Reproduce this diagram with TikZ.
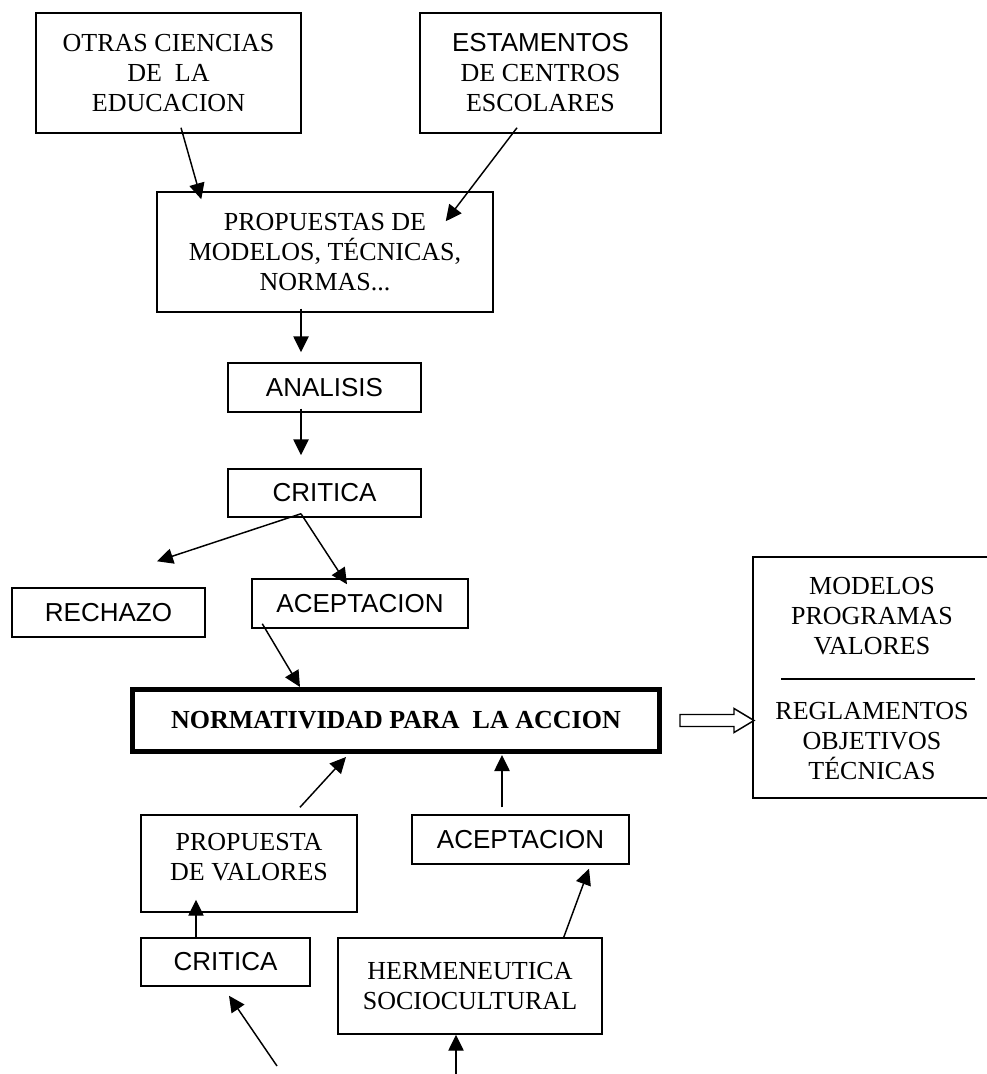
\documentclass[tikz,border=0pt]{standalone}
\usepackage{fontspec}
\setmainfont{Liberation Serif}
\setsansfont{Liberation Sans}
\usetikzlibrary{arrows.meta}

\begin{document}
\begin{tikzpicture}
    [x=0.75pt,y=-0.75pt,
    box/.style={draw,line width=1.1pt,align=center,inner sep=0pt,
      font=\fontsize{19.5}{22.5}\selectfont},
    sbox/.style={box,font=\sffamily\fontsize{19.5}{22.5}\selectfont},
    arr/.style={-{Triangle[length=12pt,width=11.5pt]},line width=1.1pt},
    hollow/.style={draw,line width=1.1pt,fill=white}]
    \useasboundingbox (0,0) rectangle (987,1074);
    % upper chain
    \node[box,minimum width=198.75pt,minimum height=90pt] (otras) at (168.5,73)
      {OTRAS CIENCIAS\\DE\ \ LA\\EDUCACION};
    \node[box,minimum width=180.75pt,minimum height=90pt] (estam) at (540.5,73)
      {\sffamily ESTAMENTOS\\DE CENTROS\\ESCOLARES};
    \node[box,minimum width=252pt,minimum height=90pt] (prop) at (325,252)
      {PROPUESTAS DE\\MODELOS, TÉCNICAS,\\NORMAS...};
    \node[sbox,minimum width=144.75pt,minimum height=36.75pt] (anal) at (324.5,387.5) {ANALISIS};
    \node[sbox,minimum width=144.75pt,minimum height=36pt] (crit) at (324.5,493) {CRITICA};
    \node[sbox,minimum width=144.75pt,minimum height=36.75pt] (rech) at (108.5,612.5) {RECHAZO};
    \node[sbox,minimum width=162pt,minimum height=36.75pt] (acep) at (360,603.5) {ACEPTACION};
    \node[box,line width=3.75pt,minimum width=395.25pt,minimum height=46.5pt] (norm) at (396,720.5)
      {\textbf{NORMATIVIDAD PARA\ \ LA ACCION}};
    % result box
    \node[box,minimum width=179.25pt,minimum height=180.75pt] (res) at (872.5,677.5) {};
    \node[box,draw=none] (resup) at (872,616) {MODELOS\\PROGRAMAS\\VALORES};
    \node[box,draw=none] (reslow) at (872,741) {REGLAMENTOS\\OBJETIVOS\\TÉCNICAS};
    \draw[line width=1.1pt] (781,679) -- (975,679);
    % lower chain
    \node[box,minimum width=162pt,minimum height=72.75pt] (propv) at (249,863.5) {};
    \node[box,draw=none] (propvtxt) at (249,857.5) {PROPUESTA\\DE VALORES};
    \node[sbox,minimum width=162.75pt,minimum height=36.75pt] (acepb) at (520.5,839.5) {ACEPTACION};
    \node[sbox,minimum width=126.75pt,minimum height=36pt] (critb) at (225.5,962) {CRITICA};
    \node[box,minimum width=198pt,minimum height=72pt] (herm) at (470,986)
      {HERMENEUTICA\\SOCIOCULTURAL};
    \coordinate (inA) at (277,1066);
    \coordinate (inB) at (456,1074);
    % connectors
    \draw[arr] ([shift={(12.5,-6)}]otras.south) -- ([shift={(45,8)}]prop.north west);
    \draw[arr] ([shift={(-23.5,-6)}]estam.south) -- ([shift={(-48,30)}]prop.north east);
    \draw[arr] ([shift={(-24,-4)}]prop.south) -- ([shift={(-23.5,-10)}]anal.north);
    \draw[arr] ([shift={(-23.5,-4)}]anal.south) -- ([shift={(-23.5,-13)}]crit.north);
    \draw[arr] ([shift={(-23.5,-4)}]crit.south) -- ([shift={(48.5,-26)}]rech.north);
    \draw[arr] ([shift={(-23.5,-4)}]crit.south) -- ([shift={(-13,6)}]acep.north);
    \draw[arr] ([shift={(11,-5)}]acep.south west) -- ([shift={(-96,0)}]norm.north);
    \draw[arr] ([shift={(51,-7)}]propv.north) -- ([shift={(-50,3)}]norm.south);
    \draw[arr] ([shift={(-18.5,-7)}]acepb.north) -- ([shift={(106,1)}]norm.south);
    \draw[arr] ([shift={(-29.5,0)}]critb.north) -- ([shift={(-53,-13)}]propv.south);
    \draw[arr] ([shift={(-39,0)}]herm.north east) -- ([shift={(68.5,4)}]acepb.south);
    \draw[arr] (inA) -- ([shift={(3.5,9)}]critb.south);
    \draw[arr] (inB) -- ([shift={(-14,0)}]herm.south);
    \draw[hollow] ([shift={(18,-6)}]norm.east) -- ++(54,0) -- ++(0,-6) -- ++(20,12)
      -- ++(-20,12) -- ++(0,-6) -- ++(-54,0) -- cycle;
\end{tikzpicture}
\end{document}
